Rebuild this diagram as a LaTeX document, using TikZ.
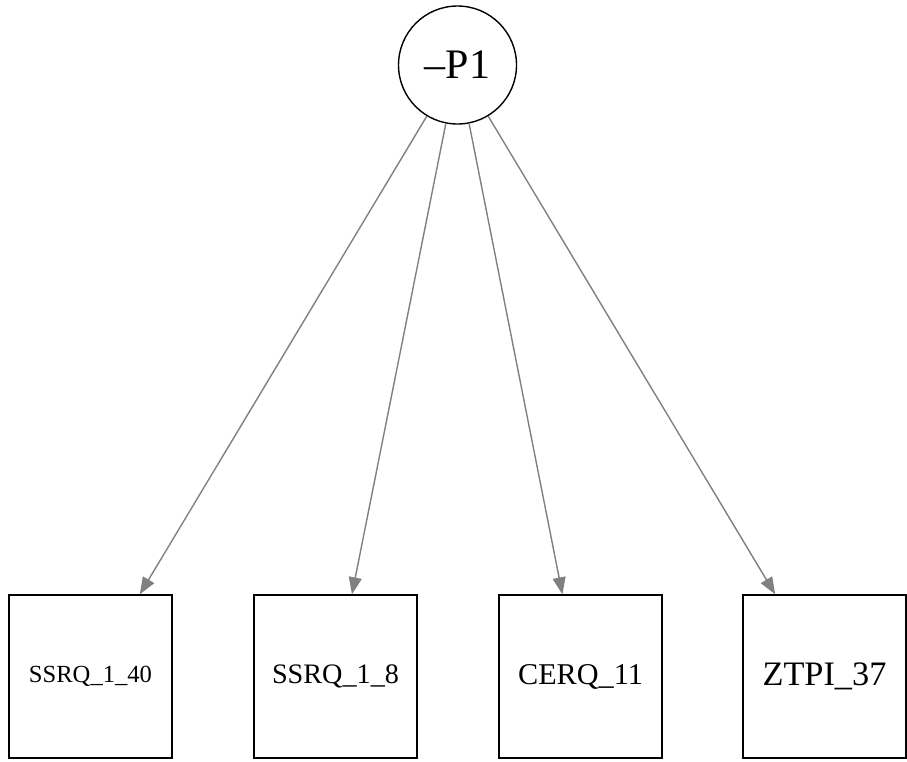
\documentclass[tikz,border=0pt]{standalone}
\usepackage{fontspec}
\setmainfont{Liberation Serif}
\usetikzlibrary{arrows.meta,calc}
\begin{document}
\begin{tikzpicture}[x=1pt,y=-1pt,
  latent/.style={draw=black,line width=1.4pt,circle,minimum size=118pt,inner sep=0pt,font=\fontsize{42}{44}\selectfont},
  manifest/.style={draw=black,line width=1.4pt,rectangle,minimum width=163pt,minimum height=163pt,inner sep=0pt},
  load/.style={line width=1.4pt,-{Triangle[length=17pt,width=13pt]},color={rgb,255:red,128;green,128;blue,128}}]
\useasboundingbox (0,0) rectangle (907,761);
\node[latent] (p1) at (457.5,65) {–P1};
\node[manifest,font=\fontsize{24.6}{26}\selectfont] (b1) at (90.5,676.5) {SSRQ\_1\_40};
\node[manifest,font=\fontsize{28.2}{30}\selectfont] (b2) at (335.5,676.5) {SSRQ\_1\_8};
\node[manifest,font=\fontsize{30.2}{32}\selectfont] (b3) at (580.5,676.5) {CERQ\_11};
\node[manifest,font=\fontsize{34.3}{36}\selectfont] (b4) at (824.5,676.5) {ZTPI\_37};
\coordinate (t1) at ($(b1.north west)!0.80!(b1.north east)$);
\coordinate (t2) at ($(b2.north west)!0.60!(b2.north east)$);
\coordinate (t3) at ($(b3.north west)!0.39!(b3.north east)$);
\coordinate (t4) at ($(b4.north west)!0.20!(b4.north east)$);
\draw[load] (p1) -- (t1);
\draw[load] (p1) -- (t2);
\draw[load] (p1) -- (t3);
\draw[load] (p1) -- (t4);
\end{tikzpicture}
\end{document}
